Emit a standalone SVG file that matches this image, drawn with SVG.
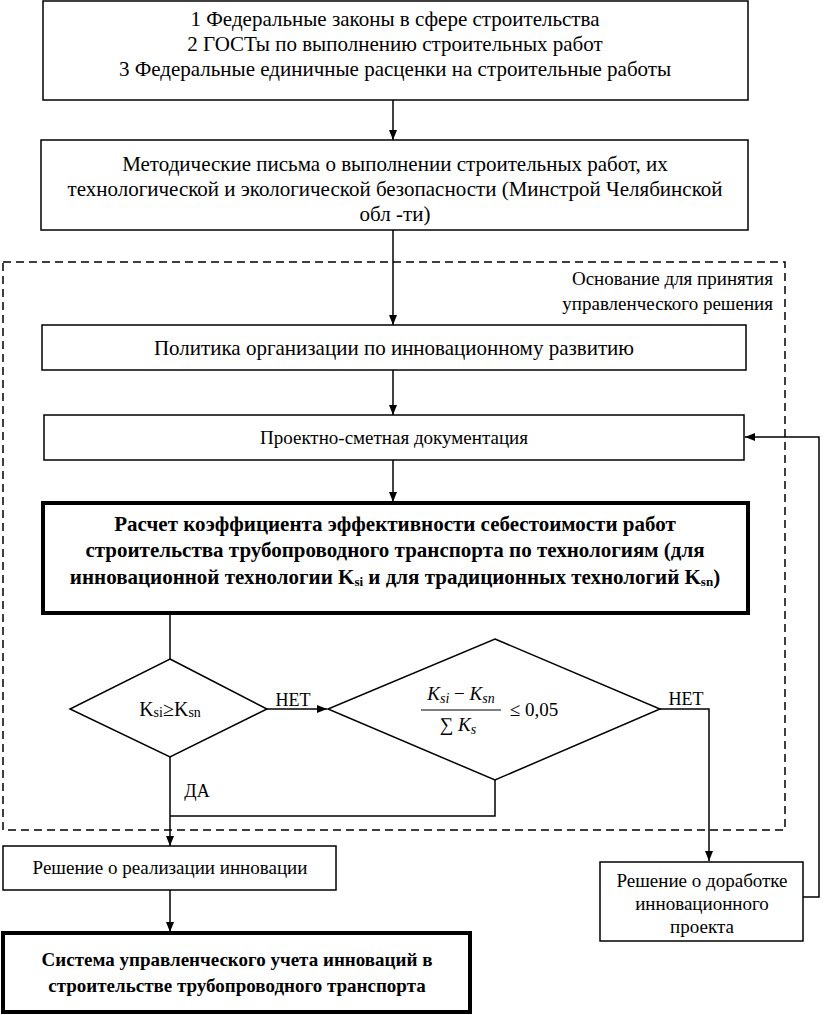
<svg xmlns="http://www.w3.org/2000/svg" width="824" height="1015" viewBox="0 0 824 1015" font-family="'Liberation Serif', 'DejaVu Serif', serif">
<style>
text{font-family:'Liberation Serif','DejaVu Serif',serif}
.t{font-size:21px;fill:#000;text-anchor:middle}
.s{font-size:19px}
.b{font-weight:bold}
.box{fill:#fff;stroke:#000;stroke-width:1.5}
.thick{fill:#fff;stroke:#000;stroke-width:4}
.ln{fill:none;stroke:#000;stroke-width:1.5}
.i{font-style:italic}
</style>
<defs>
<marker id="ah" viewBox="0 0 10 10" refX="10" refY="5" markerWidth="10" markerHeight="10" markerUnits="userSpaceOnUse" orient="auto">
<path d="M0,1 L10,5 L0,9 Z" fill="#000"/>
</marker>
</defs>
<rect width="824" height="1015" fill="#fff"/>
<g id="frame">
<rect x="3" y="262" width="782" height="568" fill="none" stroke="#000" stroke-width="1.5" stroke-dasharray="8,5"/>
<text class="t s" style="text-anchor:end" x="773" y="285">Основание для принятия</text>
<text class="t s" style="text-anchor:end" x="773" y="310">управленческого решения</text>
</g>
<g id="connectors">
<line class="ln" x1="393" y1="100" x2="393" y2="140" marker-end="url(#ah)"/>
<line class="ln" x1="393" y1="230" x2="393" y2="325" marker-end="url(#ah)"/>
<line class="ln" x1="393" y1="370" x2="393" y2="415" marker-end="url(#ah)"/>
<line class="ln" x1="393" y1="460" x2="393" y2="502" marker-end="url(#ah)"/>
<line class="ln" x1="170" y1="614" x2="170" y2="659"/>
<line class="ln" x1="267" y1="709" x2="327" y2="709" marker-end="url(#ah)"/>
<polyline class="ln" points="660,709 709,709 709,861" marker-end="url(#ah)"/>
<polyline class="ln" points="495,780 495,816 170,816"/>
<line class="ln" x1="170" y1="757" x2="170" y2="846" marker-end="url(#ah)"/>
<line class="ln" x1="170" y1="890" x2="170" y2="932" marker-end="url(#ah)"/>
<polyline class="ln" points="803,897 819,897 819,437 745,437" marker-end="url(#ah)"/>
<text class="t" x="293" y="706" style="font-size:18px">НЕТ</text>
<text class="t" x="686" y="705" style="font-size:18px">НЕТ</text>
<text class="t" x="197" y="797" style="font-size:18px">ДА</text>
</g>
<g id="n1">
<rect class="box" x="43" y="1" width="705" height="99"/>
<text class="t" x="395" y="26">1 Федеральные законы в сфере строительства</text>
<text class="t" x="395" y="51">2 ГОСТы по выполнению строительных работ</text>
<text class="t" x="395" y="76">3 Федеральные единичные расценки на строительные работы</text>
</g>
<g id="n2">
<rect class="box" x="41" y="140" width="707" height="90"/>
<text class="t" x="395" y="171">Методические письма о выполнении строительных работ, их</text>
<text class="t" x="395" y="196">технологической и экологической безопасности (Минстрой Челябинской</text>
<text class="t" x="395" y="221">обл -ти)</text>
</g>
<g id="n3">
<rect class="box" x="42" y="325" width="704" height="45"/>
<text class="t" x="394" y="355">Политика организации по инновационному развитию</text>
</g>
<g id="n4">
<rect class="box" x="44" y="415" width="700" height="45"/>
<text class="t s" x="394" y="444">Проектно-сметная документация</text>
</g>
<g id="n5">
<rect class="thick" x="43" y="503" width="705" height="110"/>
<text class="t b" x="395" y="531">Расчет коэффициента эффективности себестоимости работ</text>
<text class="t b" x="395" y="557">строительства трубопроводного транспорта по технологиям (для</text>
<text class="t b" x="395" y="584">инновационной технологии K<tspan font-size="13" dy="2">si</tspan><tspan dy="-2"> и для традиционных технологий K</tspan><tspan font-size="13" dy="2">sn</tspan><tspan dy="-2">)</tspan></text>
</g>
<g id="d1">
<polygon class="ln" points="170,659 267,709 170,757 70,709" fill="#fff"/>
<text class="t" x="170" y="716" style="font-size:20px">K<tspan font-size="14" dy="1">si</tspan><tspan dy="-1">≥K</tspan><tspan font-size="14" dy="1">sn</tspan></text>
</g>
<g id="d2">
<polygon class="ln" points="495,639 660,709 495,780 328,709" fill="#fff"/>
<text class="t i" x="461" y="700" style="font-size:19px">K<tspan font-size="14" dy="3">si</tspan><tspan dy="-3" font-style="normal"> − </tspan>K<tspan font-size="14" dy="3">sn</tspan></text>
<line x1="421" y1="710" x2="501" y2="710" stroke="#000" stroke-width="1.2"/>
<text class="t" x="458" y="731" style="font-size:19px">∑ <tspan font-style="italic">K</tspan><tspan font-style="italic" font-size="14" dy="3">s</tspan></text>
<text class="t" x="534" y="716" style="font-size:19px">≤ 0,05</text>
</g>
<g id="n7">
<rect class="box" x="3" y="846" width="333" height="44"/>
<text class="t s" x="170" y="874">Решение о реализации инновации</text>
</g>
<g id="n8">
<rect class="thick" x="3" y="933" width="467" height="79"/>
<text class="t b s" x="237" y="966">Система управленческого учета инноваций в</text>
<text class="t b s" x="237" y="992">строительстве трубопроводного транспорта</text>
</g>
<g id="n6">
<rect class="box" x="600" y="862" width="203" height="79"/>
<text class="t s" x="702" y="887">Решение о доработке</text>
<text class="t s" x="702" y="910">инновационного</text>
<text class="t s" x="702" y="933">проекта</text>
</g>
</svg>
